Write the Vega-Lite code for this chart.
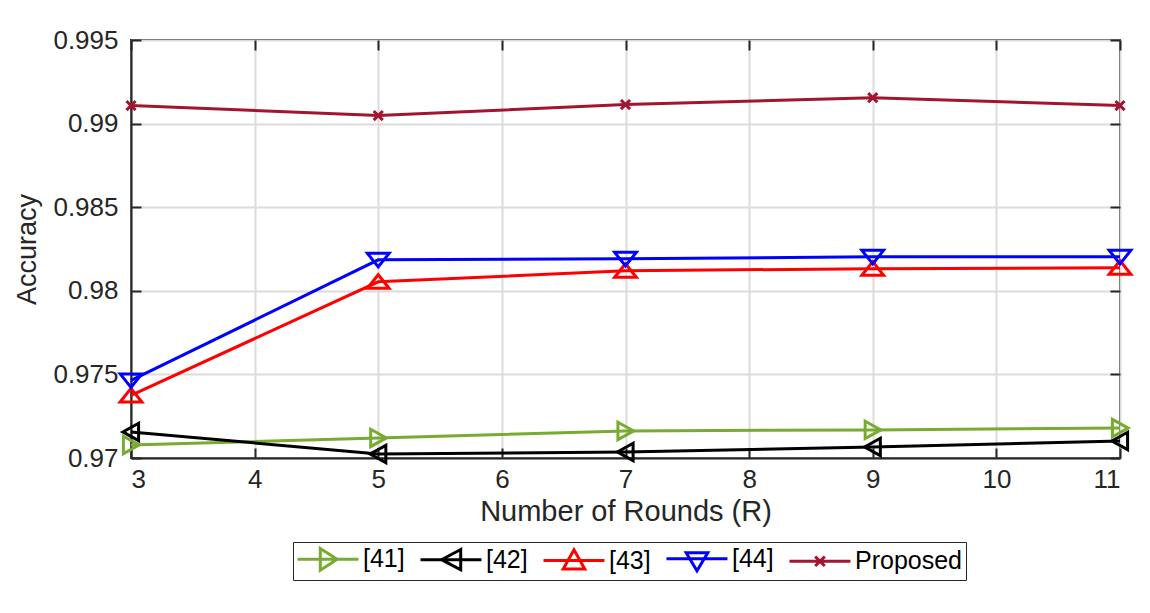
{
  "$schema": "https://vega.github.io/schema/vega-lite/v6.json",
  "width": 989,
  "height": 418,
  "autosize": {"type": "none"},
  "padding": {"left": 131, "top": 40, "right": 30, "bottom": 155},
  "background": "white",
  "config": {
    "font": "Liberation Sans",
    "view": {"stroke": "#262626", "strokeWidth": 2},
    "axis": {
      "gridColor": "#dcdcdc",
      "gridWidth": 2,
      "gridOpacity": 1,
      "domainColor": "#262626",
      "domainWidth": 2,
      "tickColor": "#262626",
      "tickWidth": 2,
      "tickSize": -10,
      "labelColor": "#262626",
      "labelFont": "Liberation Sans",
      "labelFontSize": 26,
      "titleFont": "Liberation Sans",
      "titleFontSize": 27,
      "titleFontWeight": "normal",
      "titleColor": "#262626"
    },
    "legend": {
      "labelFont": "Liberation Sans",
      "labelFontSize": 25,
      "labelColor": "#000000",
      "symbolSize": 576,
      "symbolStrokeWidth": 3,
      "symbolOpacity": 1,
      "symbolFillColor": "transparent",
      "labelOffset": 40,
      "columnPadding": 9,
      "padding": 3,
      "strokeColor": "#262626"
    }
  },
  "data": {
    "values": [
      {"r": 3, "series": "[41]", "acc": 0.97078},
      {"r": 5, "series": "[41]", "acc": 0.9712},
      {"r": 7, "series": "[41]", "acc": 0.97162},
      {"r": 9, "series": "[41]", "acc": 0.97168},
      {"r": 11, "series": "[41]", "acc": 0.97179},
      {"r": 3, "series": "[42]", "acc": 0.97156},
      {"r": 5, "series": "[42]", "acc": 0.97024},
      {"r": 7, "series": "[42]", "acc": 0.97036},
      {"r": 9, "series": "[42]", "acc": 0.97066},
      {"r": 11, "series": "[42]", "acc": 0.97102},
      {"r": 3, "series": "[43]", "acc": 0.97374},
      {"r": 5, "series": "[43]", "acc": 0.98054},
      {"r": 7, "series": "[43]", "acc": 0.9812},
      {"r": 9, "series": "[43]", "acc": 0.98132},
      {"r": 11, "series": "[43]", "acc": 0.98138},
      {"r": 3, "series": "[44]", "acc": 0.97464},
      {"r": 5, "series": "[44]", "acc": 0.98185},
      {"r": 7, "series": "[44]", "acc": 0.98191},
      {"r": 9, "series": "[44]", "acc": 0.98203},
      {"r": 11, "series": "[44]", "acc": 0.98203},
      {"r": 3, "series": "Proposed", "acc": 0.99108},
      {"r": 5, "series": "Proposed", "acc": 0.99048},
      {"r": 7, "series": "Proposed", "acc": 0.99114},
      {"r": 9, "series": "Proposed", "acc": 0.99155},
      {"r": 11, "series": "Proposed", "acc": 0.99108}
    ]
  },
  "resolve": {
    "scale": {"shape": "independent", "color": "independent"},
    "axis": {"x": "independent", "y": "independent"}
  },
  "layer": [
    {
      "mark": {"type": "line", "strokeWidth": 3},
      "encoding": {
        "x": {
          "field": "r", "type": "quantitative",
          "scale": {"domain": [3, 11], "nice": false, "zero": false},
          "axis": {"values": [3, 4, 5, 6, 7, 8, 9, 10, 11], "grid": true, "labelPadding": 18, "title": "Number of Rounds (R)", "titleFontSize": 29, "titlePadding": 5}
        },
        "y": {
          "field": "acc", "type": "quantitative",
          "scale": {"domain": [0.97, 0.995], "nice": false, "zero": false},
          "axis": {"values": [0.97, 0.975, 0.98, 0.985, 0.99, 0.995], "format": ".3~f", "grid": true, "labelPadding": 23, "title": "Accuracy", "titlePadding": 11}
        },
        "color": {
          "field": "series", "type": "nominal",
          "scale": {"domain": ["[41]", "[42]", "[43]", "[44]", "Proposed"], "range": ["#77AC30", "#000000", "#FF0000", "#0000FF", "#A2142F"]},
          "legend": null
        },
        "detail": {"field": "series"}
      }
    },
    {
      "mark": {"type": "point", "filled": false, "strokeWidth": 3, "size": 470, "opacity": 1},
      "encoding": {
        "x": {"field": "r", "type": "quantitative", "axis": null},
        "y": {"field": "acc", "type": "quantitative", "axis": null},
        "color": {
          "field": "series", "type": "nominal",
          "scale": {"domain": ["[41]", "[42]", "[43]", "[44]", "Proposed"], "range": ["#77AC30", "#000000", "#FF0000", "#0000FF", "#A2142F"]},
          "legend": null
        },
        "shape": {
          "field": "series", "type": "nominal",
          "scale": {
            "domain": ["[41]", "[42]", "[43]", "[44]", "Proposed"],
            "range": [
              "M-0.7,-0.8L0.75,0L-0.7,0.8Z",
              "M0.7,-0.8L-0.75,0L0.7,0.8Z",
              "M-1,0.6L0,-0.65L1,0.6Z",
              "M-1,-0.6L0,0.65L1,-0.6Z",
              "M-0.42,-0.42L0.42,0.42M-0.42,0.42L0.42,-0.42"
            ]
          },
          "legend": null
        }
      }
    },
    {
      "mark": {"type": "point", "filled": false, "opacity": 0},
      "encoding": {
        "x": {"field": "r", "type": "quantitative", "axis": null},
        "y": {"field": "acc", "type": "quantitative", "axis": null},
        "color": {
          "field": "series", "type": "nominal",
          "scale": {"domain": ["[41]", "[42]", "[43]", "[44]", "Proposed"], "range": ["#77AC30", "#000000", "#FF0000", "#0000FF", "#A2142F"]},
          "legend": {"title": null, "orient": "none", "legendX": 162, "legendY": 502, "direction": "horizontal", "encode": {"legend": {"strokeWidth": {"value": 2.5}}}}
        },
        "shape": {
          "field": "series", "type": "nominal",
          "scale": {
            "domain": ["[41]", "[42]", "[43]", "[44]", "Proposed"],
            "range": [
              "M-1,0L4.08,0M0.9,-0.9L2.3,0L0.9,0.9Z",
              "M-1,0L4.08,0M2.35,-0.85L0.75,0L2.35,0.85Z",
              "M-1,0L4.08,0M0.64,0.7L1.54,-0.9L2.44,0.7Z",
              "M-1,0L4.08,0M0.64,-0.5L1.54,1.0L2.44,-0.5Z",
              "M-1,0L4.08,0M1.14,-0.4L1.94,0.4M1.14,0.4L1.94,-0.4"
            ]
          },
          "legend": {"title": null, "orient": "none", "legendX": 162, "legendY": 502, "direction": "horizontal", "encode": {"legend": {"strokeWidth": {"value": 2.5}}}}
        }
      }
    },
    {
      "mark": {"type": "point", "opacity": 0},
      "encoding": {
        "x": {"field": "r", "type": "quantitative", "axis": {"orient": "top", "values": [3, 4, 5, 6, 7, 8, 9, 10, 11], "labels": false, "grid": false, "domain": false, "title": null}},
        "y": {"field": "acc", "type": "quantitative", "axis": {"orient": "right", "values": [0.97, 0.975, 0.98, 0.985, 0.99, 0.995], "labels": false, "grid": false, "domain": false, "title": null}}
      }
    }
  ]
}
